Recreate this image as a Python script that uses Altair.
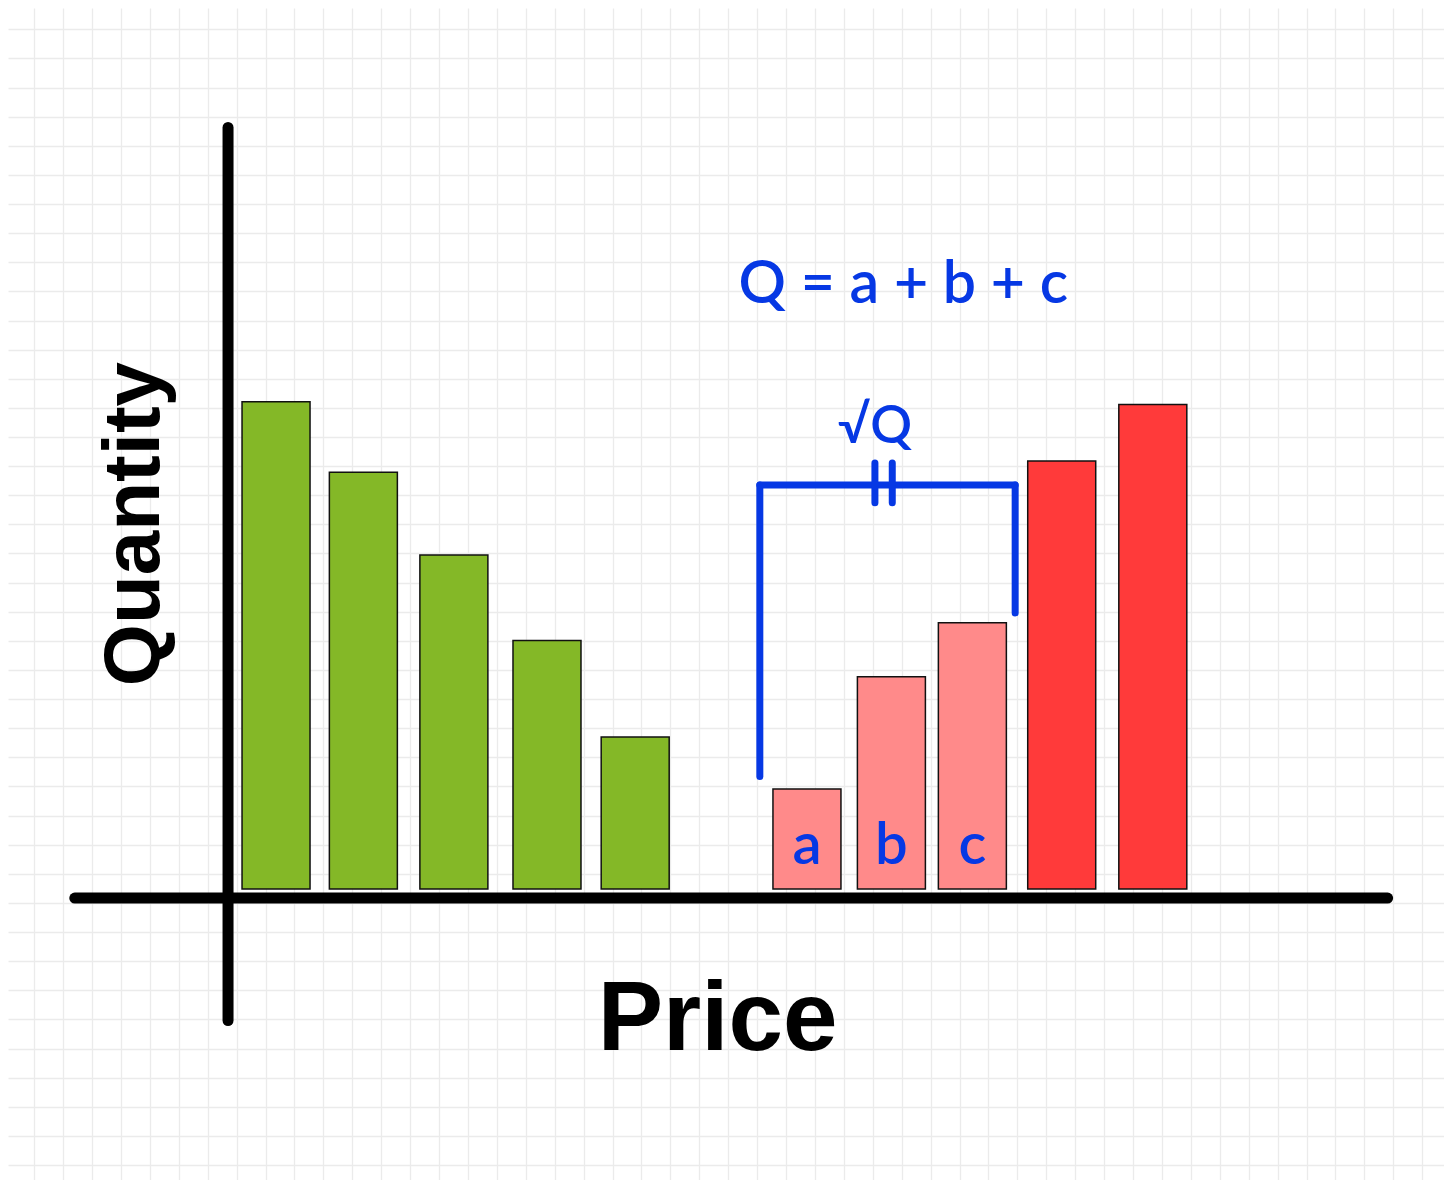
import altair as alt
import pandas as pd

# ---------------- data (units = grid cells; price measured from the vertical axis,
# quantity measured from the bars' baseline) ----------------
green_price = [1.61, 4.63, 7.76, 10.98, 14.03]
green_qty = [16.73, 14.31, 11.47, 8.53, 5.22]
pink_price = [19.97, 22.89, 25.69]
pink_qty = [3.43, 7.29, 9.14]
pink_labels = ["a", "b", "c"]
red_price = [28.78, 31.93]
red_qty = [14.70, 16.64]

equation_text = "Q = a + b + c"
root_text = "√Q"
x_title = "Price"
y_title = "Quantity"

# hand-drawn axes (start / end in data units)
axis_x0 = [-5.35, -0.05]
axis_y0 = [-0.31, -4.52]
axis_x1 = [40.05, -0.05]
axis_y1 = [-0.31, 26.15]

# blue bracket around a, b, c and its double tick
bracket_x0 = [18.34, 18.34, 27.17, 22.32, 22.92]
bracket_y0 = [3.86, 13.87, 13.87, 13.26, 13.26]
bracket_x1 = [18.34, 27.17, 27.17, 22.32, 22.92]
bracket_y1 = [13.87, 13.87, 9.48, 14.63, 14.63]

# ---------------- layout ----------------
CELL = 29.12            # grid cell in px
W, H = 1436, 1172       # plot area
ORIGIN_PX_X = 226       # pixel of price 0 in the page
ORIGIN_PX_Y = 889       # pixel of quantity 0 in the page

x_dom = [(8 - ORIGIN_PX_X) / CELL, (8 + W - ORIGIN_PX_X) / CELL]
y_dom = [(ORIGIN_PX_Y - (8 + H)) / CELL, (ORIGIN_PX_Y - 8) / CELL]
grid_x = [(k * CELL + 0.2 - ORIGIN_PX_X) / CELL for k in range(1, 50)]
grid_y = [(ORIGIN_PX_Y - 0.2 - k * CELL) / CELL for k in range(1, 41)]

xs = alt.Scale(domain=x_dom, nice=False, zero=False)
ys = alt.Scale(domain=y_dom, nice=False, zero=False)
xax = alt.Axis(values=grid_x, grid=True, labels=False, ticks=False, domain=False,
               title=None, gridColor="#ebebeb", gridWidth=1.3)
yax = alt.Axis(values=grid_y, grid=True, labels=False, ticks=False, domain=False,
               title=None, gridColor="#ebebeb", gridWidth=1.3)

BLUE = "#0638e4"
HAND = "Liberation Sans, Arial, sans-serif"
SOFT = "Lato, Open Sans, sans-serif"

bars_df = pd.DataFrame({
    "price": green_price + pink_price + red_price,
    "qty": green_qty + pink_qty + red_qty,
    "group": ["green"] * len(green_price) + ["pink"] * len(pink_price) + ["red"] * len(red_price),
})

bars = alt.Chart(bars_df).mark_bar(size=68, stroke="#111111", strokeWidth=1.5).encode(
    x=alt.X("price:Q", scale=xs, axis=xax),
    y=alt.Y("qty:Q", scale=ys, axis=yax),
    color=alt.Color("group:N", legend=None,
                    scale=alt.Scale(domain=["green", "pink", "red"],
                                    range=["#84b827", "#ff8a8a", "#ff3a3a"])),
)

axes_df = pd.DataFrame({"x0": axis_x0, "y0": axis_y0, "x1": axis_x1, "y1": axis_y1})
axes_lines = alt.Chart(axes_df).mark_rule(color="black", strokeWidth=11, strokeCap="round").encode(
    x=alt.X("x0:Q", scale=xs, axis=xax), y=alt.Y("y0:Q", scale=ys, axis=yax),
    x2="x1:Q", y2="y1:Q",
)

br_df = pd.DataFrame({"x0": bracket_x0, "y0": bracket_y0, "x1": bracket_x1, "y1": bracket_y1})
bracket = alt.Chart(br_df).mark_rule(color=BLUE, strokeWidth=7, strokeCap="round").encode(
    x=alt.X("x0:Q", scale=xs, axis=xax), y=alt.Y("y0:Q", scale=ys, axis=yax),
    x2="x1:Q", y2="y1:Q",
)

abc_df = pd.DataFrame({"price": pink_price, "label": pink_labels, "y": [0.86] * 3})
abc = alt.Chart(abc_df).mark_text(font=SOFT, fontSize=58, fontWeight=600, color=BLUE,
                                  baseline="alphabetic", align="center").encode(
    x=alt.X("price:Q", scale=xs, axis=xax), y=alt.Y("y:Q", scale=ys, axis=yax), text="label:N",
)

eq_df = pd.DataFrame({"x": [23.30], "y": [20.12], "t": [equation_text]})
eq_text = alt.Chart(eq_df).mark_text(font=SOFT, fontSize=59, fontWeight=600, color=BLUE,
                                     baseline="alphabetic", align="center").encode(
    x=alt.X("x:Q", scale=xs, axis=xax), y=alt.Y("y:Q", scale=ys, axis=yax), text="t:N",
)

root_df = pd.DataFrame({"x": [22.32], "y": [15.32], "t": [root_text]})
root_lbl = alt.Chart(root_df).mark_text(font=SOFT, fontSize=52, fontWeight=600, color=BLUE,
                                        baseline="alphabetic", align="center").encode(
    x=alt.X("x:Q", scale=xs, axis=xax), y=alt.Y("y:Q", scale=ys, axis=yax), text="t:N",
)

price_df = pd.DataFrame({"x": [16.88], "y": [-5.53], "t": [x_title]})
price_lbl = alt.Chart(price_df).mark_text(font=HAND, fontSize=98, fontWeight="bold", color="black",
                                          baseline="alphabetic", align="center").encode(
    x=alt.X("x:Q", scale=xs, axis=xax), y=alt.Y("y:Q", scale=ys, axis=yax), text="t:N",
)

qty_df = pd.DataFrame({"x": [-2.45], "y": [12.53], "t": [y_title]})
qty_lbl = alt.Chart(qty_df).mark_text(font=HAND, fontSize=80, fontWeight="bold", color="black",
                                      baseline="alphabetic", align="center", angle=270).encode(
    x=alt.X("x:Q", scale=xs, axis=xax), y=alt.Y("y:Q", scale=ys, axis=yax), text="t:N",
)

chart = alt.layer(bars, axes_lines, bracket, abc, eq_text, root_lbl, price_lbl, qty_lbl).properties(
    width=W, height=H, padding=0, autosize=alt.AutoSizeParams(type="none"), background="white",
).configure_view(stroke=None)

chart.save("out.html", embed_options={"renderer": "svg", "actions": False})
